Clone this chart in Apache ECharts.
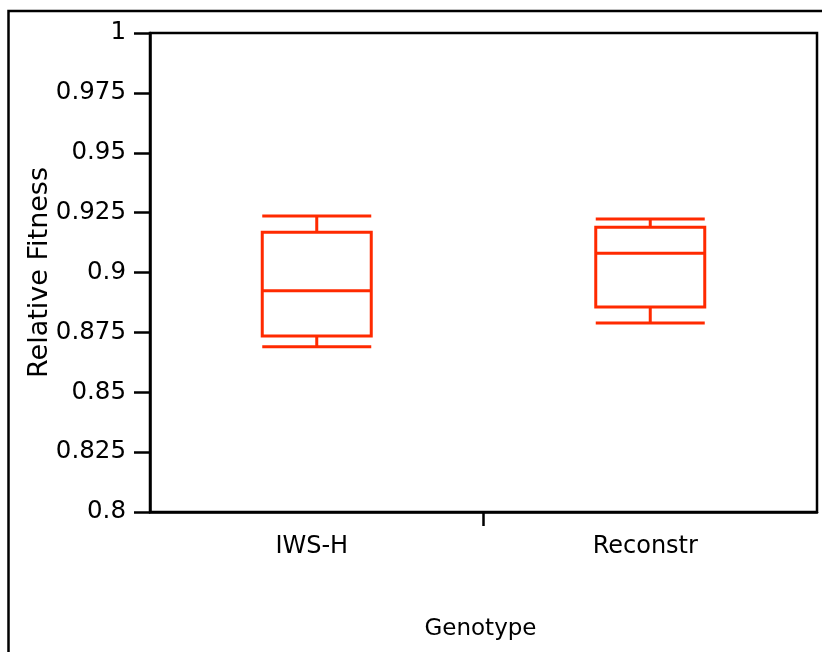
<!DOCTYPE html>
<html>
<head>
<meta charset="utf-8">
<script src="https://cdn.jsdelivr.net/npm/echarts@6/dist/echarts.min.js"></script>
<style>
  html, body { margin: 0; padding: 0; background: #fff; }
  #chart { width: 822px; height: 652px; }
</style>
</head>
<body>
<div id="chart"></div>
<script>
// Genotypes along the x axis
const genotypes = ['IWS-H', 'Reconstr'];
// Five-number summaries: [min, Q1, median, Q3, max]
const iwsH = [0.869, 0.8735, 0.8924, 0.9168, 0.9236];
const reconstr = [0.8789, 0.8856, 0.908, 0.9189, 0.9223];
// Relative fitness scale
const yMin = 0.8;
const yMax = 1;
const yStep = 0.025;

const FONT = 'DejaVu Sans';
const RED = '#ff2a00';

const chart = echarts.init(document.getElementById('chart'), null, { renderer: 'canvas' });

chart.setOption({
  backgroundColor: '#ffffff',
  animation: false,
  graphic: [{
    // outer frame around the whole figure
    type: 'rect',
    shape: { x: 8.5, y: 11, width: 1000, height: 1000 },
    style: { fill: 'none', stroke: '#000', lineWidth: 2.5 },
    silent: true
  }],
  grid: {
    left: 150, top: 33, right: 5, bottom: 140,
    show: true, borderColor: '#000', borderWidth: 2.5, backgroundColor: 'transparent'
  },
  xAxis: [{
    type: 'category',
    data: genotypes,
    position: 'bottom',
    boundaryGap: true,
    axisLine: { show: true, lineStyle: { color: '#000', width: 2.5 } },
    axisTick: { show: false },
    axisLabel: { color: '#000', fontFamily: FONT, fontSize: 24, margin: 23, padding: [0, 10, 0, 0] },
    name: 'Genotype',
    nameLocation: 'middle',
    nameGap: 106,
    nameMoveOverlap: false,
    nameTextStyle: { color: '#000', fontFamily: FONT, fontSize: 23, padding: [0, 6, 0, 0] },
    splitLine: { show: false }
  }, {
    // divider tick between the two genotype groups
    type: 'category',
    data: ['', '', ''],
    position: 'bottom',
    boundaryGap: false,
    axisLine: { show: false },
    axisTick: {
      show: true, length: 14,
      interval: function (index) { return index === 1; },
      lineStyle: { color: '#000', width: 2.5 }
    },
    axisLabel: { show: false },
    splitLine: { show: false }
  }],
  yAxis: {
    type: 'value',
    min: yMin,
    max: yMax,
    interval: yStep,
    axisLine: { show: true, lineStyle: { color: '#000', width: 2.5 } },
    axisTick: { show: true, length: 16, lineStyle: { color: '#000', width: 2.5 } },
    axisLabel: {
      color: '#000', fontFamily: FONT, fontSize: 24.5, margin: 24,
      formatter: function (v) { return String(+v.toFixed(3)); }
    },
    splitLine: { show: false },
    name: 'Relative Fitness',
    nameLocation: 'middle',
    nameRotate: 90,
    nameGap: 97,
    nameMoveOverlap: false,
    nameTextStyle: { color: '#000', fontFamily: FONT, fontSize: 27 }
  },
  series: [{
    type: 'boxplot',
    xAxisIndex: 0,
    boxWidth: [109, 109],
    data: [iwsH, reconstr],
    itemStyle: { color: 'transparent', borderColor: RED, borderWidth: 3 },
    emphasis: { disabled: true }
  }]
});
</script>
</body>
</html>
